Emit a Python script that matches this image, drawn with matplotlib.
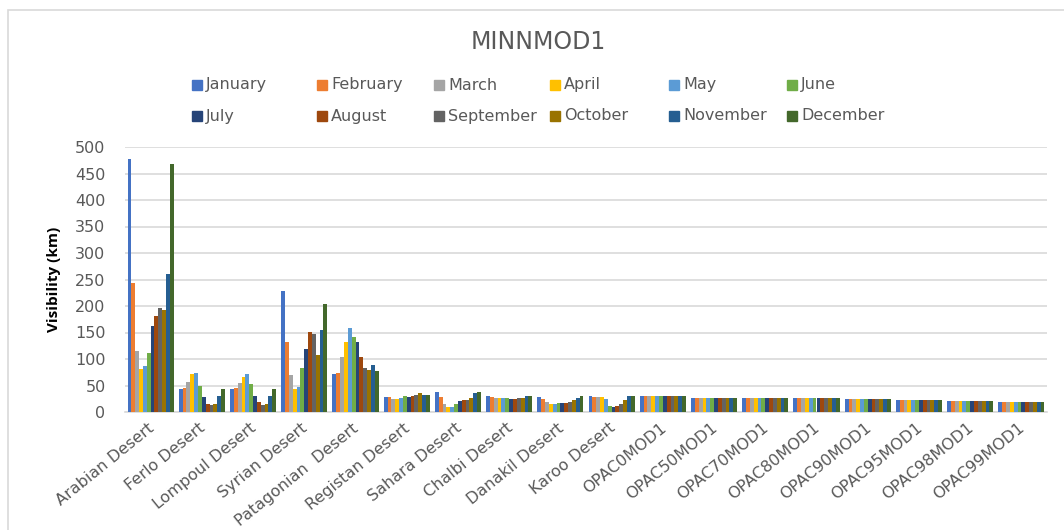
import matplotlib.pyplot as plt
import numpy as np
from matplotlib.patches import Rectangle

plt.rcParams["font.family"] = ["DejaVu Sans"]

categories = ["Arabian Desert", "Ferlo Desert", "Lompoul Desert", "Syrian Desert",
              "Patagonian  Desert", "Registan Desert", "Sahara Desert", "Chalbi Desert",
              "Danakil Desert", "Karoo Desert", "OPAC0MOD1", "OPAC50MOD1", "OPAC70MOD1",
              "OPAC80MOD1", "OPAC90MOD1", "OPAC95MOD1", "OPAC98MOD1", "OPAC99MOD1"]
months = ["January", "February", "March", "April", "May", "June",
          "July", "August", "September", "October", "November", "December"]

# OPAC models are (nearly) flat across months
opac = [30, 27, 27, 27, 25, 22, 20, 18]

jan = [478, 43, 43, 228, 71, 28, 38, 31, 29, 31] + opac
feb = [244, 45, 45, 133, 73, 28, 29, 29, 24, 29] + opac
mar = [116, 57, 54, 69, 104, 24, 16, 27, 19, 29] + opac
apr = [81, 71, 66, 43, 133, 24, 10, 27, 15, 29] + opac
may = [86, 73, 71, 47, 158, 26, 10, 27, 15, 24] + opac
jun = [112, 49, 52, 83, 142, 31, 15, 27, 17, 12] + opac
jul = [163, 28, 31, 118, 133, 28, 20, 24, 17, 10] + opac
aug = [182, 16, 19, 151, 104, 31, 22, 24, 17, 12] + opac
sep = [197, 13, 14, 147, 83, 33, 22, 27, 19, 15] + opac
octo = [192, 16, 16, 107, 80, 35, 27, 27, 22, 22] + opac
nov = [260, 31, 31, 154, 88, 33, 36, 31, 27, 31] + opac
dec = [467, 43, 43, 204, 78, 33, 38, 31, 31, 31] + opac

series = [jan, feb, mar, apr, may, jun, jul, aug, sep, octo, nov, dec]

colors = ["#4472C4", "#ED7D31", "#A5A5A5", "#FFC000", "#5B9BD5", "#70AD47",
          "#264478", "#9E480E", "#636363", "#997300", "#255E91", "#43682B"]

text_gray = "#595959"
grid_gray = "#D9D9D9"

fig = plt.figure(figsize=(10.64, 5.30), dpi=100)
W, H = 1064, 530

# chart border
fig.patches.append(Rectangle((8 / W, -0.05), 1.1, (H - 10) / H + 0.05,
                             transform=fig.transFigure, fill=False,
                             edgecolor=grid_gray, linewidth=1.2))

ax = fig.add_axes([125 / W, (H - 412) / H, (1047 - 125) / W, (412 - 147) / H])

x = np.arange(len(categories))
n = len(series)
width = 0.9 / n
for i, vals in enumerate(series):
    ax.bar(x - 0.45 + width * (i + 0.5), vals, width=width, color=colors[i],
           linewidth=0, label=months[i], zorder=3)

ax.set_xlim(-0.5, len(categories) - 0.5)
ax.set_ylim(0, 500)
ax.set_yticks(np.arange(0, 501, 50))
ax.yaxis.grid(True, color=grid_gray, linewidth=1.2, zorder=0)
ax.set_axisbelow(True)
for s in ["top", "right", "left"]:
    ax.spines[s].set_visible(False)
ax.spines["bottom"].set_color(grid_gray)
ax.spines["bottom"].set_linewidth(1.2)
ax.tick_params(axis="both", length=0, colors=text_gray, labelsize=11.5)
ax.tick_params(axis="y", pad=14)

ax.set_xticks(x + 0.12)
ax.set_xticklabels(categories, rotation=39, ha="right", va="top",
                   fontsize=11.5, color=text_gray)
ax.tick_params(axis="x", pad=6)

ax.set_ylabel("Visibility (km)", fontsize=11, fontweight="bold",
              family=["Open Sans", "DejaVu Sans"], color="black", labelpad=10)

fig.text(538 / W, 1 - 42 / H, "MINNMOD1", ha="center", va="center",
         fontsize=17, color=text_gray)

# legend laid out in Excel style: fixed column positions
legend_x = [192, 317, 434, 550, 669, 787]
rows_y = [85, 116]
for i, m in enumerate(months):
    col, row = i % 6, i // 6
    px = legend_x[col]
    py = rows_y[row]
    fig.patches.append(Rectangle((px / W, 1 - (py + 5) / H), 10 / W, 10 / H,
                                 transform=fig.transFigure, color=colors[i]))
    fig.text((px + 14) / W, 1 - py / H, m, ha="left", va="center",
             fontsize=11.5, color=text_gray)

fig.savefig("out.png", dpi=100)
